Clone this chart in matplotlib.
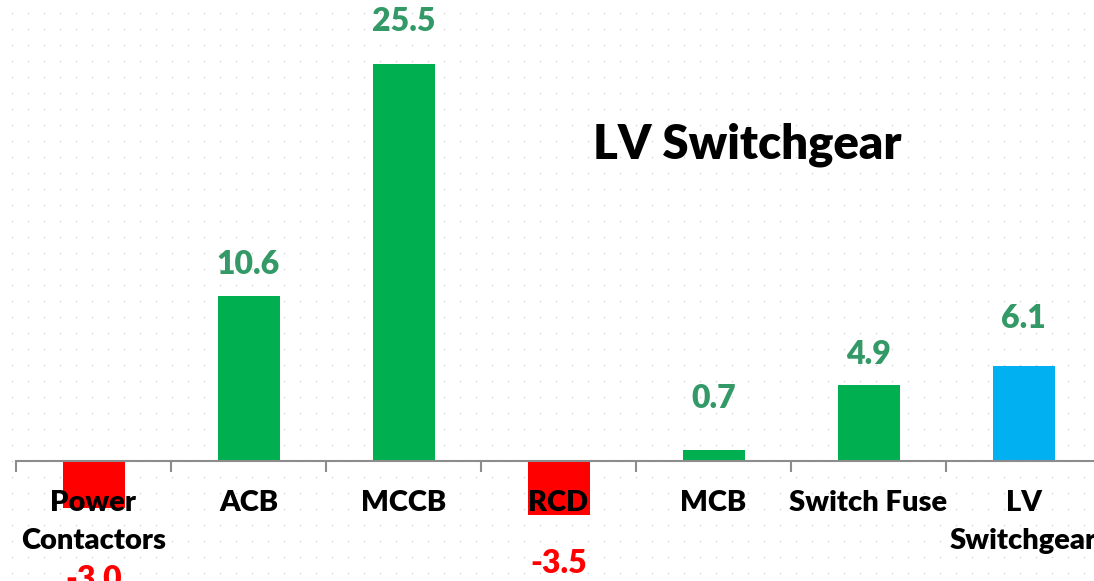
import matplotlib.pyplot as plt
import numpy as np

categories = ['Power\nContactors', 'ACB', 'MCCB', 'RCD', 'MCB', 'Switch Fuse', 'LV\nSwitchgear']
values = [-3.0, 10.6, 25.5, -3.5, 0.7, 4.9, 6.1]
bar_colors = ['#ff0000', '#00b050', '#00b050', '#ff0000', '#00b050', '#00b050', '#00b0f0']
# label offsets (pixels) from bar end, as placed in the original
label_offsets = [-72, 31, 42, -48, 52, 30, 48]

W, H = 1094, 581
fig = plt.figure(figsize=(W / 100, H / 100), dpi=100)
fig.patch.set_facecolor('white')

# dotted background
bg = fig.add_axes([0, 0, 1, 1])
bg.set_xlim(0, W)
bg.set_ylim(H, 0)
bg.axis('off')
gx, gy = np.meshgrid(np.arange(12, W, 16), np.arange(13, H, 16))
bg.scatter(gx.ravel(), gy.ravel(), s=1.2, color='#d4d4d4', lw=0)

step = 155.0
left = 16.0
ax = fig.add_axes([left / W, 0, 7 * step / W, 1])
ax.patch.set_alpha(0)
x = np.arange(len(categories))
ax.bar(x, values, width=0.4, color=bar_colors, zorder=1)

ppu = 15.57
ax.set_xlim(-0.5, 6.5)
ax.set_ylim(-(H - 461) / ppu, 461 / ppu)

for s in ['top', 'left', 'right']:
    ax.spines[s].set_visible(False)
ax.spines['bottom'].set_position(('data', 0))
ax.spines['bottom'].set_color('#8c8c8c')
ax.spines['bottom'].set_linewidth(1.5)
ax.set_yticks([])

ax.set_xticks(x)
ax.set_xticklabels(categories, fontsize=21, fontweight='heavy', family='Lato', linespacing=1.55)
ax.tick_params(axis='x', which='major', length=0, pad=21)
ax.set_xticks(np.arange(-0.5, 7, 1), minor=True)
ax.tick_params(axis='x', which='minor', length=8, width=1.5, color='#8c8c8c')

for xi, v, off in zip(x, values, label_offsets):
    col = '#339966' if v > 0 else '#ff0000'
    ax.annotate(f'{v:.1f}', (xi, v), xytext=(0, off * 0.72), textcoords='offset points',
                ha='center', va='center', fontsize=23, fontweight='heavy',
                family='Lato', color=col, annotation_clip=False)

fig.text(747 / W, 1 - 145 / H, 'LV Switchgear', ha='center', va='center',
         fontsize=34, fontweight='heavy', family='Lato', color='black')

fig.savefig('out.png', dpi=100)
